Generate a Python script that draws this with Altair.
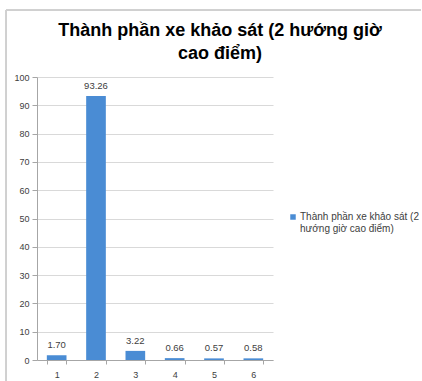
import altair as alt
import pandas as pd

categories = ["1", "2", "3", "4", "5", "6"]
values = [1.70, 93.26, 3.22, 0.66, 0.57, 0.58]
series_name = "Thành phần xe khảo sát (2 hướng giờ cao điểm)"
legend_lines = ["Thành phần xe khảo sát (2", "hướng giờ cao điểm)"]
y_ticks = list(range(0, 101, 10))

df = pd.DataFrame({
    "cat": categories,
    "val": values,
    "series": [series_name] * len(categories),
    "label": [f"{v:.2f}" for v in values],
})

bar_color = "#4A8CD4"
axis_gray = "#A6A6A6"
text_gray = "#404040"

x_axis = alt.Axis(labelAngle=0, tickBand="extent", labelFont="Liberation Sans",
                  labelFontSize=9, labelColor=text_gray, domainColor=axis_gray,
                  tickColor=axis_gray, tickSize=4, labelPadding=6)
y_axis = alt.Axis(values=y_ticks, labelFont="Liberation Sans", labelFontSize=9,
                  labelColor=text_gray, domainColor=axis_gray, tickColor=axis_gray,
                  tickSize=5, grid=True, gridColor="#D9D9D9", labelPadding=3,
                  labelOverlap=False)

x = alt.X("cat:N", sort=categories, title=None,
          scale=alt.Scale(paddingInner=0.5, paddingOuter=0.25), axis=x_axis)
y = alt.Y("val:Q", title=None, scale=alt.Scale(domain=[0, 100], nice=False), axis=y_axis)

bars = alt.Chart(df).mark_bar(color=bar_color).encode(
    x=x,
    y=y,
    color=alt.Color("series:N", title=None,
                    scale=alt.Scale(range=[bar_color]),
                    legend=alt.Legend(orient="none", legendX=251, legendY=135,
                                      symbolType="square", symbolSize=30,
                                      labelFont="Liberation Sans", labelFontSize=10,
                                      labelColor=text_gray, labelLimit=200, labelOffset=2,
                                      labelExpr=str(legend_lines))),
)

labels = alt.Chart(df).mark_text(dy=-10, font="Liberation Sans", fontSize=9.5,
                                 color=text_gray).encode(
    x=x,
    y=y,
    text="label:N",
)

# thin outer frame along the top and left edges of the chart area
frame_top = alt.Chart(df).mark_rule(color="#D0D0D0", strokeWidth=1).encode(
    x=alt.value(-31), x2=alt.value(384), y=alt.value(-67))
frame_left = alt.Chart(df).mark_rule(color="#D0D0D0", strokeWidth=1).encode(
    x=alt.value(-31), y=alt.value(-67), y2=alt.value(310))

chart = alt.layer(frame_top, frame_left, bars, labels).properties(
    width=236,
    height=283,
    title=alt.TitleParams(
        ["Thành phần xe khảo sát (2 hướng giờ", "cao điểm)"],
        font="Liberation Sans", fontSize=18, fontWeight="bold", color="#000000",
        anchor="middle", frame="group", dx=65, offset=-53, lineHeight=23,
    ),
    autosize="none",
    padding={"left": 37, "top": 77, "right": 149, "bottom": 21},
    background="white",
).configure_view(stroke=None)

chart.save("out.html", embed_options={"renderer": "svg", "actions": False})
